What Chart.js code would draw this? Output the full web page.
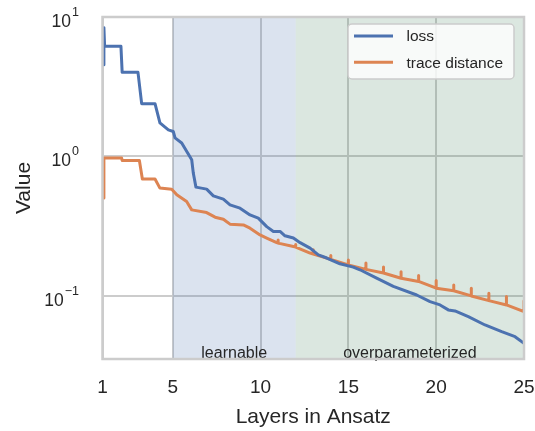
<!DOCTYPE html>
<html>
<head>
<meta charset="utf-8">
<script src="https://cdn.jsdelivr.net/npm/chart.js@4.4.1/dist/chart.umd.min.js"></script>
<style>
  html, body { margin: 0; padding: 0; background: #fff; }
  canvas { display: block; }
</style>
</head>
<body>
<canvas id="chart" width="535" height="431"></canvas>
<script>
// loss / trace distance vs. number of layers (log y)
const lossX = [1.08, 1.08, 1.12, 2.05, 2.12, 3.02, 3.23, 3.99, 4.27, 4.75,
  5.03, 5.13, 5.51, 5.79, 6.08, 6.17, 6.32, 6.93, 7.31, 7.88,
  8.26, 8.83, 9.40, 9.87, 10.35, 10.73, 11.11, 11.39, 11.87, 12.25,
  12.82, 13.29, 13.77, 14.52, 15.28, 15.66, 16.61, 17.56, 18.89, 19.65,
  20.22, 20.69, 21.07, 21.83, 22.78, 23.73, 24.49, 25];
const lossY = [4.55, 8.39, 6.16, 6.16, 4.01, 4.01, 2.39, 2.39, 1.74, 1.55,
  1.51, 1.36, 1.25, 1.09, 0.947, 0.760, 0.603, 0.583, 0.522, 0.494,
  0.450, 0.426, 0.381, 0.361, 0.314, 0.290, 0.290, 0.270, 0.260, 0.241,
  0.220, 0.197, 0.187, 0.170, 0.161, 0.154, 0.134, 0.117, 0.1016, 0.0910,
  0.0862, 0.0794, 0.0780, 0.0710, 0.0619, 0.0554, 0.0510, 0.0457];

const traceX = [1.08, 1.08, 2.09, 2.12, 3.10, 3.27, 3.99, 4.27, 4.94, 5.23,
  5.79, 6.08, 6.93, 7.41, 7.88, 8.26, 9.02, 9.40, 9.97, 10.35, 10.92,
  11, 11, 11, 11.87, 12, 12, 12, 12.82, 13, 13, 13, 14, 14, 14,
  15, 15, 15, 16, 16, 16, 17, 17, 17, 18, 18, 18, 19, 19, 19,
  20, 20, 20, 21, 21, 21, 22, 22, 22, 23, 23, 23, 24, 24, 24, 25, 25];
const traceY = [0.503, 0.974, 0.974, 0.936, 0.936, 0.689, 0.689, 0.593, 0.583, 0.531,
  0.475, 0.414, 0.396, 0.367, 0.355, 0.327, 0.323, 0.306, 0.274, 0.260, 0.241,
  0.239, 0.252, 0.239, 0.226, 0.224, 0.234, 0.224, 0.203, 0.200, 0.214, 0.200, 0.183, 0.195, 0.183,
  0.167, 0.181, 0.167, 0.155, 0.172, 0.155, 0.146, 0.161, 0.146, 0.134, 0.149, 0.134, 0.127, 0.140, 0.127,
  0.1136, 0.1288, 0.1136, 0.109, 0.120, 0.109, 0.100, 0.1136, 0.100, 0.0925, 0.1045, 0.0925,
  0.0862, 0.0989, 0.0862, 0.0771, 0.0925];

const xTicks = [1, 5, 10, 15, 20, 25];
const yTicks = [0.1, 1, 10];
const yExponents = ['\u22121', '0', '1'];

const regionFrom = [5, 12];
const regionTo = [12, 25];
const regionNames = ['learnable', 'overparameterized'];
const regionColors = ['rgba(76,114,176,0.2)', 'rgba(75,135,100,0.2)'];

const FONT = '"Liberation Sans", Arial, Helvetica, sans-serif';
const INK = '#262626';
const GRID = '#cccccc';

Chart.defaults.font.family = FONT;
Chart.defaults.color = INK;

const toPoints = (xs, ys) => xs.map((x, i) => ({ x, y: ys[i] }));

const decor = {
  id: 'decor',
  beforeDatasetsDraw(chart) {
    const { ctx, chartArea: a, scales: { x } } = chart;
    ctx.save();
    regionFrom.forEach((from, i) => {
      const x0 = x.getPixelForValue(from);
      const x1 = x.getPixelForValue(regionTo[i]);
      ctx.fillStyle = regionColors[i];
      ctx.fillRect(x0, a.top, x1 - x0, a.bottom - a.top);
    });
    ctx.restore();
  },
  afterDatasetsDraw(chart) {
    const { ctx, chartArea: a, scales: { x, y } } = chart;
    ctx.save();

    ctx.fillStyle = INK;
    ctx.font = '16px ' + FONT;
    ctx.textAlign = 'center';
    ctx.textBaseline = 'alphabetic';
    regionNames.forEach((name, i) => {
      const cx = (x.getPixelForValue(regionFrom[i]) + x.getPixelForValue(regionTo[i])) / 2;
      ctx.fillText(name, cx, a.bottom - 1);
    });

    ctx.strokeStyle = GRID;
    ctx.lineWidth = 2.5;
    ctx.strokeRect(a.left, a.top, a.right - a.left, a.bottom - a.top);

    // 10^n labels on the log axis
    ctx.textAlign = 'right';
    yTicks.forEach((v, i) => {
      const py = y.getPixelForValue(v);
      ctx.font = '12.5px ' + FONT;
      const ew = ctx.measureText(yExponents[i]).width;
      ctx.fillText(yExponents[i], 79, py - 1);
      ctx.font = '17.5px ' + FONT;
      ctx.fillText('10', 79 - ew - 1, py + 10);
    });

    // legend box
    const lw = 166, lh = 55;
    const lx = a.right - 10 - lw, ly = a.top + 7;
    ctx.beginPath();
    ctx.roundRect(lx, ly, lw, lh, 4);
    ctx.fillStyle = 'rgba(255,255,255,0.8)';
    ctx.fill();
    ctx.strokeStyle = GRID;
    ctx.lineWidth = 1.5;
    ctx.stroke();
    ctx.textAlign = 'left';
    ctx.textBaseline = 'middle';
    ctx.font = '15.5px ' + FONT;
    chart.data.datasets.forEach((ds, i) => {
      const ry = ly + 12 + i * 26.3;
      ctx.beginPath();
      ctx.moveTo(lx + 6, ry);
      ctx.lineTo(lx + 45, ry);
      ctx.strokeStyle = ds.borderColor;
      ctx.lineWidth = 3;
      ctx.stroke();
      ctx.fillStyle = INK;
      ctx.fillText(ds.label, lx + 58.5, ry + 1);
    });
    ctx.restore();
  }
};

new Chart(document.getElementById('chart'), {
  type: 'line',
  data: {
    datasets: [
      { label: 'loss', data: toPoints(lossX, lossY), borderColor: '#4C72B0' },
      { label: 'trace distance', data: toPoints(traceX, traceY), borderColor: '#DD8452' },
    ],
  },
  options: {
    responsive: false,
    animation: false,
    devicePixelRatio: 1,
    events: [],
    layout: { padding: { top: 17, right: 11, bottom: 0, left: 0 } },
    elements: {
      point: { radius: 0 },
      line: { borderWidth: 3, tension: 0, borderJoinStyle: 'round', borderCapStyle: 'round' },
    },
    plugins: { legend: { display: false }, tooltip: { enabled: false } },
    scales: {
      x: {
        type: 'linear', min: 1, max: 25,
        afterBuildTicks: (s) => { s.ticks = xTicks.map((value) => ({ value })); },
        afterFit: (s) => { s.height = 72; s.paddingLeft = 0; s.paddingRight = 0; },
        ticks: { font: { size: 19 }, color: INK, padding: 17.5, maxRotation: 0 },
        grid: { color: GRID, lineWidth: 2, drawTicks: false },
        border: { display: false },
        title: { display: true, text: 'Layers in Ansatz', font: { size: 21 }, color: INK, padding: { top: 0, bottom: 1.5 } },
      },
      y: {
        type: 'logarithmic', min: 0.0353, max: 10,
        afterBuildTicks: (s) => { s.ticks = yTicks.map((value) => ({ value })); },
        afterFit: (s) => { s.width = 102.5; s.paddingTop = 0; s.paddingBottom = 0; },
        ticks: { display: false },
        grid: { color: GRID, lineWidth: 2, drawTicks: false },
        border: { display: false },
        title: { display: true, text: 'Value', font: { size: 21 }, color: INK, padding: { top: 12, bottom: 0 } },
      },
    },
  },
  plugins: [decor],
});
</script>
</body>
</html>
